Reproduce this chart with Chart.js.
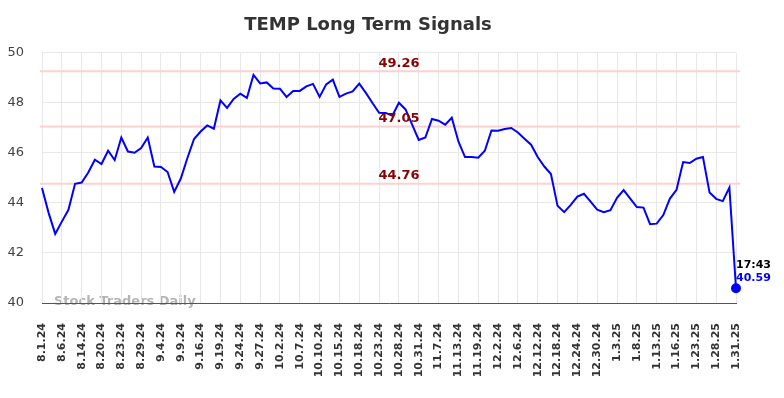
<!DOCTYPE html>
<html>
<head>
<meta charset="utf-8">
<script src="https://cdn.jsdelivr.net/npm/chart.js@4/dist/chart.umd.min.js"></script>
<style>
  html, body { margin: 0; padding: 0; background: #fff; }
  #wrap { width: 784px; height: 398px; }
</style>
</head>
<body>
<div id="wrap"><canvas id="chart" width="784" height="398"></canvas></div>
<script>
// TEMP long term signals

const dates = [
    '8.1.24', '8.2.24', '8.5.24', '8.6.24', '8.8.24', '8.12.24', '8.14.24', '8.15.24', '8.19.24',
    '8.20.24', '8.21.24', '8.22.24', '8.23.24', '8.26.24', '8.27.24', '8.29.24', '8.30.24', '9.3.24',
    '9.4.24', '9.5.24', '9.6.24', '9.9.24', '9.11.24', '9.13.24', '9.16.24', '9.17.24', '9.18.24',
    '9.19.24', '9.20.24', '9.23.24', '9.24.24', '9.25.24', '9.26.24', '9.27.24', '9.30.24', '10.1.24',
    '10.2.24', '10.3.24', '10.4.24', '10.7.24', '10.8.24', '10.9.24', '10.10.24', '10.11.24', '10.14.24',
    '10.15.24', '10.16.24', '10.17.24', '10.18.24', '10.21.24', '10.22.24', '10.23.24', '10.24.24', '10.25.24',
    '10.28.24', '10.29.24', '10.30.24', '10.31.24', '11.4.24', '11.6.24', '11.7.24', '11.8.24', '11.11.24',
    '11.13.24', '11.14.24', '11.18.24', '11.19.24', '11.22.24', '11.26.24', '12.2.24', '12.3.24', '12.4.24',
    '12.6.24', '12.9.24', '12.10.24', '12.12.24', '12.13.24', '12.16.24', '12.18.24', '12.19.24', '12.20.24',
    '12.24.24', '12.26.24', '12.27.24', '12.30.24', '12.31.24', '1.2.25', '1.3.25', '1.6.25', '1.7.25',
    '1.8.25', '1.9.25', '1.10.25', '1.13.25', '1.14.25', '1.15.25', '1.16.25', '1.17.25', '1.21.25',
    '1.23.25', '1.24.25', '1.27.25', '1.28.25', '1.29.25', '1.30.25', '1.31.25'
];

const prices = [
    44.59, 43.60, 42.76, 43.25, 43.72, 44.76, 44.81, 45.21, 45.72, 45.55,
    46.08, 45.71, 46.61, 46.05, 46.00, 46.19, 46.61, 45.45, 45.43, 45.23,
    44.44, 44.97, 45.79, 46.55, 46.85, 47.09, 46.96, 48.09, 47.79, 48.15,
    48.36, 48.19, 49.11, 48.77, 48.81, 48.57, 48.56, 48.23, 48.47, 48.47,
    48.65, 48.75, 48.23, 48.73, 48.92, 48.23, 48.36, 48.45, 48.76, 48.39,
    47.99, 47.60, 47.59, 47.48, 48.00, 47.73, 47.12, 46.51, 46.61, 47.35,
    47.28, 47.12, 47.40, 46.45, 45.83, 45.83, 45.80, 46.08, 46.89, 46.88,
    46.95, 46.99, 46.81, 46.56, 46.32, 45.83, 45.45, 45.15, 43.88, 43.63,
    43.92, 44.25, 44.36, 44.05, 43.73, 43.63, 43.71, 44.20, 44.51, 44.17,
    43.83, 43.81, 43.15, 43.17, 43.51, 44.17, 44.52, 45.63, 45.59, 45.76,
    45.83, 44.41, 44.16, 44.07, 44.61, 40.59
];

const levels = [49.26, 47.05, 44.76];
const lastTime = '17:43';
const yTicks = [40, 42, 44, 46, 48, 50];

const LABEL_EVERY = 3;
const lastIdx = prices.length - 1;

const signalLines = {
    id: 'signalLines',
    beforeDraw(chart) {
        const { ctx, chartArea } = chart;
        ctx.save();
        ctx.font = 'bold 13px "DejaVu Sans"';
        ctx.fillStyle = '#b4b4b4';
        ctx.textBaseline = 'middle';
        ctx.fillText('Stock Traders Daily', chartArea.left + 12, chartArea.bottom - 1);
        ctx.restore();
    },
    beforeDatasetsDraw(chart) {
        const { ctx, chartArea, scales } = chart;
        ctx.save();
        ctx.strokeStyle = '#ffd0d0';
        ctx.lineWidth = 2;
        levels.forEach(v => {
            const y = scales.y.getPixelForValue(v);
            ctx.beginPath();
            ctx.moveTo(chartArea.left - 2, y);
            ctx.lineTo(chartArea.right + 4, y);
            ctx.stroke();
        });
        ctx.restore();
    },
    afterDatasetsDraw(chart) {
        const { ctx, chartArea, scales } = chart;
        ctx.save();
        ctx.font = 'bold 13px "DejaVu Sans"';
        ctx.fillStyle = '#8b0000';
        ctx.textAlign = 'center';
        ctx.textBaseline = 'middle';
        const cx = (chartArea.left + chartArea.right) / 2 + 10;
        levels.forEach(v => {
            ctx.fillText(v.toFixed(2), cx, scales.y.getPixelForValue(v) - 8);
        });

        // last price tag
        const px = scales.x.getPixelForValue(lastIdx);
        const py = scales.y.getPixelForValue(prices[lastIdx]);
        ctx.font = 'bold 11px "DejaVu Sans"';
        ctx.textAlign = 'left';
        ctx.fillStyle = '#000';
        ctx.fillText(lastTime, px, py - 23);
        ctx.fillStyle = '#0000ff';
        ctx.fillText(prices[lastIdx].toFixed(2), px, py - 10);
        ctx.restore();
    }
};

new Chart(document.getElementById('chart'), {
    type: 'line',
    data: {
        labels: dates,
        datasets: [{
            data: prices,
            borderColor: '#0000ff',
            backgroundColor: '#0000ff',
            borderWidth: 2,
            tension: 0,
            pointRadius: c => c.dataIndex === lastIdx ? 4 : 0,
            pointHoverRadius: 0
        }]
    },
    options: {
        responsive: false,
        animation: false,
        layout: { padding: { left: 0, right: 48, top: 0, bottom: 0 } },
        plugins: {
            legend: { display: false },
            tooltip: { enabled: false },
            title: {
                display: true,
                text: 'TEMP Long Term Signals',
                color: '#333',
                font: { family: 'DejaVu Sans', size: 18, weight: 'bold' },
                padding: { top: 15, bottom: 16 }
            }
        },
        scales: {
            x: {
                offset: false,
                afterFit: s => { s.height = 95; },
                grid: { color: '#e8e8e8', drawTicks: false },
                border: { display: true, color: '#555', width: 1 },
                ticks: {
                    autoSkip: false,
                    maxRotation: 90,
                    minRotation: 90,
                    padding: 20,
                    color: '#333',
                    font: { family: 'DejaVu Sans', size: 11, weight: 'bold' },
                    callback: (v, i) => i % LABEL_EVERY === 0 ? dates[i] : null
                }
            },
            y: {
                min: 40,
                max: 50,
                afterFit: s => { s.width = 42; },
                afterBuildTicks: s => { s.ticks = yTicks.map(v => ({ value: v })); },
                grid: { color: '#e8e8e8', drawTicks: false },
                border: { display: false },
                ticks: {
                    padding: 18,
                    color: '#444',
                    font: { family: 'DejaVu Sans', size: 13 }
                }
            }
        }
    },
    plugins: [signalLines]
});
</script>
</body>
</html>
